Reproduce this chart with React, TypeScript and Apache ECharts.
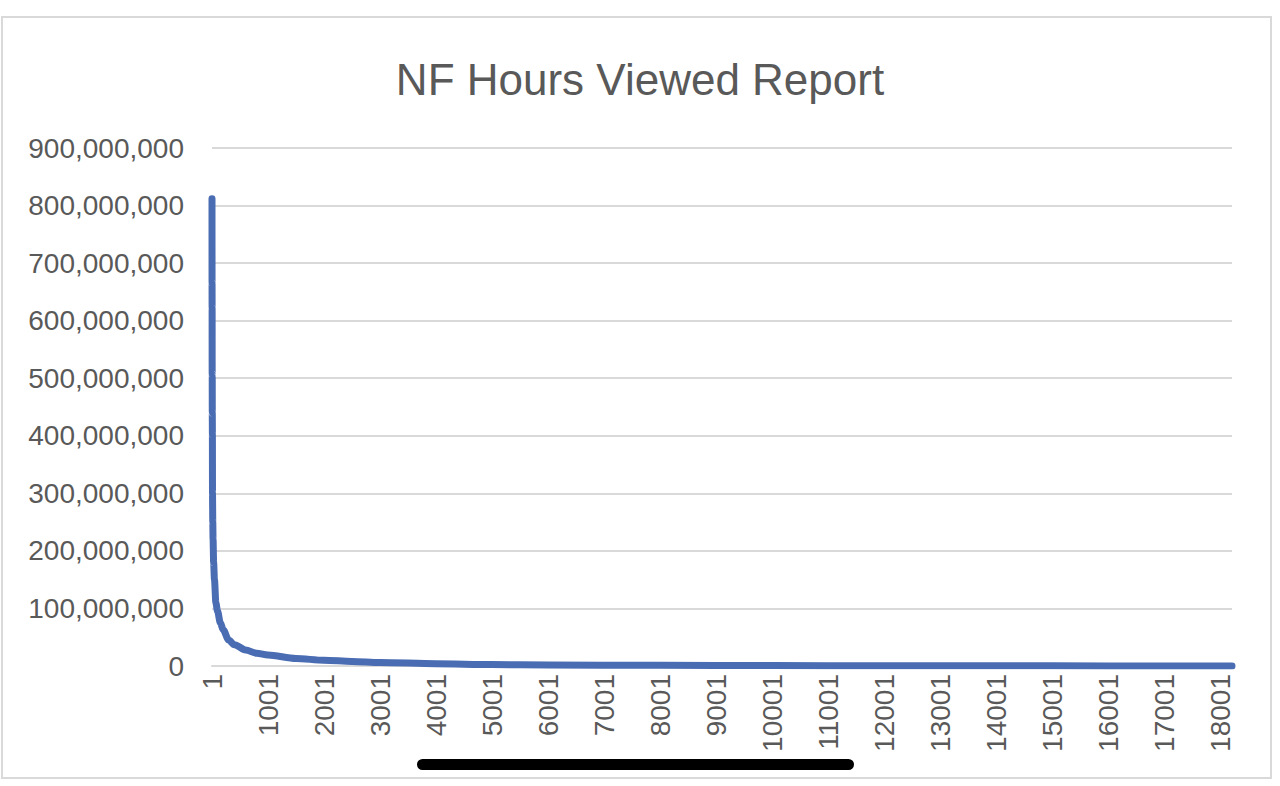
import React, { useEffect, useRef } from "react";
import * as echarts from "echarts";

const TITLE = "NF Hours Viewed Report";
// rank (1-based) of each read point
const ranks = [1, 2, 3, 4, 5, 6, 8, 10, 15, 20, 30, 45, 70, 100, 150, 200, 300, 400, 600, 800, 1000, 1500, 2000, 2500, 3000, 4000, 5000, 6000, 8000, 10000, 12000, 14000, 16000, 18214];
// hours viewed at each of those ranks
const hours = [812000000, 665000000, 622000000, 507000000, 503000000, 440000000, 402000000, 300000000, 250000000, 220000000, 180000000, 150000000, 110000000, 95000000, 75000000, 63000000, 45000000, 37000000, 28000000, 22000000, 19000000, 13000000, 10000000, 8000000, 6000000, 4000000, 2500000, 1800000, 1200000, 800000, 500000, 350000, 200000, 100000];
const yMax = 900000000;
const yStep = 100000000;
const xStep = 1000;
const lastRank = 18214;

export default function App() {
  const ref = useRef<HTMLDivElement>(null);
  useEffect(() => {
    if (!ref.current) return;
    const chart = echarts.init(ref.current, null, { renderer: "svg" });
    const font = "'Liberation Sans', Arial, sans-serif";
    chart.setOption({
      animation: false,
      backgroundColor: "#ffffff",
      title: {
        text: TITLE,
        left: "center",
        top: 52,
        textStyle: { fontFamily: font, fontSize: 44, fontWeight: "normal", color: "#595959" },
      },
      grid: { left: 212, right: 48, top: 148, bottom: 120 },
      xAxis: {
        type: "value",
        min: 0,
        max: lastRank - 1,
        interval: xStep,
        axisLine: { show: true, lineStyle: { color: "#d9d9d9", width: 2 } },
        axisTick: { show: false },
        splitLine: { show: false },
        axisLabel: {
          rotate: 90,
          margin: 8,
          showMaxLabel: false,
          fontFamily: font,
          fontSize: 28,
          color: "#595959",
          formatter: (v: number) => (v % xStep === 0 ? String(v + 1) : ""),
        },
      },
      yAxis: {
        type: "value",
        min: 0,
        max: yMax,
        interval: yStep,
        axisLine: { show: false },
        axisTick: { show: false },
        splitLine: { lineStyle: { color: "#d9d9d9", width: 2 } },
        axisLabel: {
          margin: 28,
          fontFamily: font,
          fontSize: 28,
          color: "#595959",
          formatter: (v: number) => v.toLocaleString("en-US"),
        },
      },
      series: [
        {
          type: "line",
          data: ranks.map((r, i) => [r - 1, hours[i]]),
          showSymbol: false,
          smooth: 0.3,
          smoothMonotone: "x",
          lineStyle: { color: "#4a6cb2", width: 7, cap: "round", join: "round" },
          z: 3,
        },
      ],
      graphic: [
        {
          type: "rect",
          shape: { x: 2, y: 17, width: 1269, height: 761 },
          style: { fill: "none", stroke: "#d9d9d9", lineWidth: 2 },
          silent: true,
        },
        {
          type: "rect",
          shape: { x: 417, y: 759, width: 437, height: 11, r: 5.5 },
          style: { fill: "#000000" },
          z: 10,
        },
      ],
    });
    return () => chart.dispose();
  }, []);
  return (
    <div
      ref={ref}
      style={{ position: "absolute", left: 0, top: 0, width: 1280, height: 786 }}
    />
  );
}
